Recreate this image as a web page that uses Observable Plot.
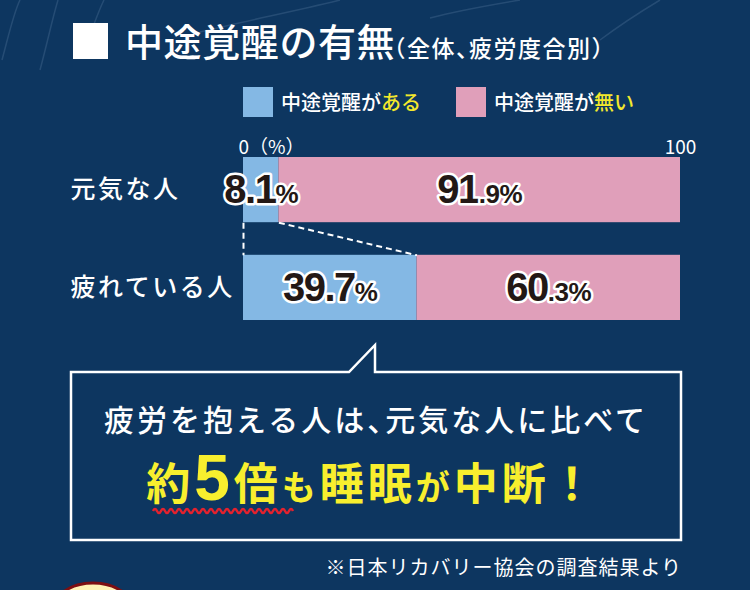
<!DOCTYPE html>
<html>
<head>
<meta charset="utf-8">
<script src="https://cdn.jsdelivr.net/npm/d3@7"></script>
<script src="https://cdn.jsdelivr.net/npm/@observablehq/plot@0.6"></script>
<style>
  html, body { margin: 0; padding: 0; }
  body { width: 750px; height: 590px; background: #0d3660; position: relative; overflow: hidden;
         font-family: "Noto Sans CJK JP", "Noto Sans", sans-serif; color: #fff; }
  .abs { position: absolute; }
  #title { left: 125px; top: 21px; font-size: 38px; line-height: 38px; font-weight: 500; letter-spacing: 0.6px; white-space: nowrap; }
  #subtitle { left: 394px; top: 36px; font-size: 23px; line-height: 23px; font-weight: 500; white-space: nowrap;
              letter-spacing: 1.5px; font-feature-settings: "halt"; }
  #square { left: 73px; top: 23px; width: 35px; height: 36px; background: #fff; }
  .sw { width: 30px; height: 30px; top: 87px; }
  .lg { top: 90px; font-size: 20px; line-height: 24px; font-weight: 500; white-space: nowrap; }
  .yl { color: #f3e82c; }
  #chart { left: 0; top: 125px; }
  #deco { left: 0; top: 0; }
</style>
</head>
<body>
<svg id="deco" class="abs" width="750" height="590"></svg>
<div id="square" class="abs"></div>
<div id="title" class="abs"></div>
<div id="subtitle" class="abs"></div>
<div id="legend"></div>
<div id="chart" class="abs"></div>
<svg id="callout" class="abs" style="left:0;top:0" width="750" height="590"></svg>
<script>
// ---- data ----
const titleText = "中途覚醒の有無";
const subtitleText = "（全体、疲労度合別）";
const categories = ["元気な人", "疲れている人"];
const seriesNames = ["中途覚醒がある", "中途覚醒が無い"];
const legendParts = [["中途覚醒が", "ある"], ["中途覚醒が", "無い"]];
const withWaking = [8.1, 39.7];
const withoutWaking = [91.9, 60.3];
const tickValues = [0, 100];
const tickLabels = ["0（%）", "100"];
const colors = ["#84b8e4", "#e09fba"];
const calloutLine1 = "疲労を抱える人は、元気な人に比べて";
const calloutLine2 = [["約", "k"], ["5", "d"], ["倍", "k"], ["も", "h"], ["睡眠", "k"], ["が", "h"], ["中断", "k"], ["！", "k"]];
const sourceText = "※日本リカバリー協会の調査結果より";

// ---- header ----
document.getElementById("title").textContent = titleText;
document.getElementById("subtitle").textContent = subtitleText;
const legend = document.getElementById("legend");
const legendX = [243, 456];
seriesNames.forEach((s, i) => {
  const sw = document.createElement("div");
  sw.className = "abs sw"; sw.style.left = legendX[i] + "px"; sw.style.background = colors[i];
  legend.appendChild(sw);
  const t = document.createElement("div");
  t.className = "abs lg"; t.style.left = (legendX[i] + 38) + "px";
  t.innerHTML = legendParts[i][0] + '<span class="yl">' + legendParts[i][1] + '</span>';
  legend.appendChild(t);
});

// ---- chart data table ----
const segments = [];
categories.forEach((cat, row) => {
  let acc = 0;
  [withWaking[row], withoutWaking[row]].forEach((v, s) => {
    segments.push({cat, row, s, series: seriesNames[s], value: v, x1: acc, x2: acc + v});
    acc += v;
  });
});
const rowTop = r => r * 1.5, rowBottom = r => r * 1.5 + 1, rowMid = r => r * 1.5 + 0.5;
const blue0 = segments.find(d => d.row === 0 && d.s === 0);
const blue1 = segments.find(d => d.row === 1 && d.s === 0);
const links = ["x1", "x2"].map(e => ({x1: blue0[e], x2: blue1[e], y1: rowBottom(blue0.row), y2: rowTop(blue1.row)}));
const ticks = tickValues.map((v, i) => ({v, label: tickLabels[i]}));

const jp = "Noto Sans CJK JP, sans-serif";
const num = "Liberation Sans, Arial, sans-serif";

const chart = Plot.plot({
  width: 750, height: 205,
  marginLeft: 243, marginRight: 70, marginTop: 32, marginBottom: 10,
  x: {domain: [0, 100], axis: null},
  y: {domain: [0, 2.5], reverse: true, axis: null},
  color: {domain: seriesNames, range: colors},
  style: {background: "transparent", overflow: "visible"},
  marks: [
    Plot.rect(segments, {x1: "x1", x2: "x2", y1: d => rowTop(d.row), y2: d => rowBottom(d.row), fill: "series"}),
    Plot.link(links, {x1: "x1", x2: "x2", y1: "y1", y2: "y2", stroke: "white", strokeWidth: 2, strokeDasharray: "6,4"}),
    Plot.text(segments, {x: d => (d.x1 + d.x2) / 2, y: d => rowMid(d.row), text: d => d.value.toFixed(1) + "%",
      fill: "#231815", stroke: "white", strokeWidth: 5, paintOrder: "stroke", fontSize: 40, fontWeight: "bold",
      fontFamily: num, ariaLabel: () => "value-label"}),
    Plot.text(categories, {y: (d, i) => rowMid(i), text: d => d, frameAnchor: "left", textAnchor: "start", dx: -173,
      fill: "white", fontSize: 25, fontWeight: 500, fontFamily: jp, ariaLabel: () => "row-label"}),
    Plot.text(ticks.slice(0, 1), {x: "v", text: "label", frameAnchor: "top", dy: -17, dx: -5, textAnchor: "start",
      fill: "white", fontSize: 19, fontFamily: jp}),
    Plot.text(ticks.slice(1), {x: "v", text: "label", frameAnchor: "top", dy: -17, textAnchor: "middle",
      fill: "white", fontSize: 19, fontFamily: jp})
  ]
});
document.getElementById("chart").appendChild(chart);

// value labels: big part + small suffix
const NS = "http://www.w3.org/2000/svg";
let valueTexts = chart.querySelectorAll('text[aria-label="value-label"]');
if (valueTexts.length === 0) valueTexts = chart.querySelectorAll('g[aria-label="text"]')[0].querySelectorAll("text");
valueTexts.forEach((t, k) => {
  const d = segments[k];
  const str = d.value.toFixed(1);
  let big, small;
  if (d.s === 0) { big = str; small = "%"; }
  else { const p = str.split("."); big = p[0]; small = "." + p[1] + "%"; }
  t.textContent = "";
  t.setAttribute("letter-spacing", "-1.5");
  const a = document.createElementNS(NS, "tspan"); a.textContent = big; t.appendChild(a);
  const b = document.createElementNS(NS, "tspan"); b.textContent = small;
  b.setAttribute("font-size", "26"); b.setAttribute("letter-spacing", "-0.5"); t.appendChild(b);
});
let rowTexts = chart.querySelectorAll('text[aria-label="row-label"]');
if (rowTexts.length === 0) rowTexts = chart.querySelectorAll('g[aria-label="text"]')[1].querySelectorAll("text");
rowTexts.forEach(t => t.setAttribute("letter-spacing", "2.5"));

// ---- callout ----
const co = d3.select("#callout");
co.append("path").attr("d", "M71,372 H349 L375,345 V372 H681 V540 H71 Z")
  .attr("fill", "none").attr("stroke", "white").attr("stroke-width", 2.5);
co.append("text").attr("x", 376).attr("y", 431).attr("text-anchor", "middle")
  .attr("fill", "white").attr("font-size", 30).attr("font-weight", 500).attr("letter-spacing", 3)
  .attr("font-family", jp).style("font-feature-settings", '"halt"').text(calloutLine1);
const l2 = co.append("text").attr("x", 372).attr("y", 500).attr("text-anchor", "middle")
  .attr("fill", "#f8ef2e").attr("font-weight", "bold").attr("letter-spacing", 4).attr("font-family", jp);
calloutLine2.forEach(([s, k]) => {
  const ts = l2.append("tspan").text(s);
  if (k === "d") ts.attr("font-size", 64).attr("font-family", num);
  else if (k === "h") ts.attr("font-size", 34);
  else ts.attr("font-size", 44);
});
// red wavy underline
let wave = "M153,511";
for (let x = 153; x < 293; x += 4) wave += ` Q${x + 2},${(Math.floor((x - 153) / 4) % 2) ? 515 : 507} ${x + 4},511`;
co.append("path").attr("d", wave).attr("fill", "none").attr("stroke", "#e3222e").attr("stroke-width", 2.5);
co.append("text").attr("x", 682).attr("y", 575).attr("text-anchor", "end").attr("fill", "white")
  .attr("font-size", 20).attr("letter-spacing", 1).attr("font-family", jp).text(sourceText);
co.append("ellipse").attr("cx", 93).attr("cy", 610).attr("rx", 40).attr("ry", 27)
  .attr("fill", "#fff3b5").attr("stroke", "#7d0f12").attr("stroke-width", 3);

// ---- faint background strokes ----
const dg = d3.select("#deco");
["M2,60 C10,30 14,12 20,0", "M40,70 C48,40 52,20 58,0", "M88,40 C94,25 98,12 104,0",
 "M200,32 C250,20 300,10 340,0", "M430,18 C460,10 490,5 520,0", "M600,40 C620,25 640,12 660,0"].forEach(p =>
  dg.append("path").attr("d", p).attr("fill", "none").attr("stroke", "rgba(150,175,210,0.18)").attr("stroke-width", 1.5));
</script>
</body>
</html>
